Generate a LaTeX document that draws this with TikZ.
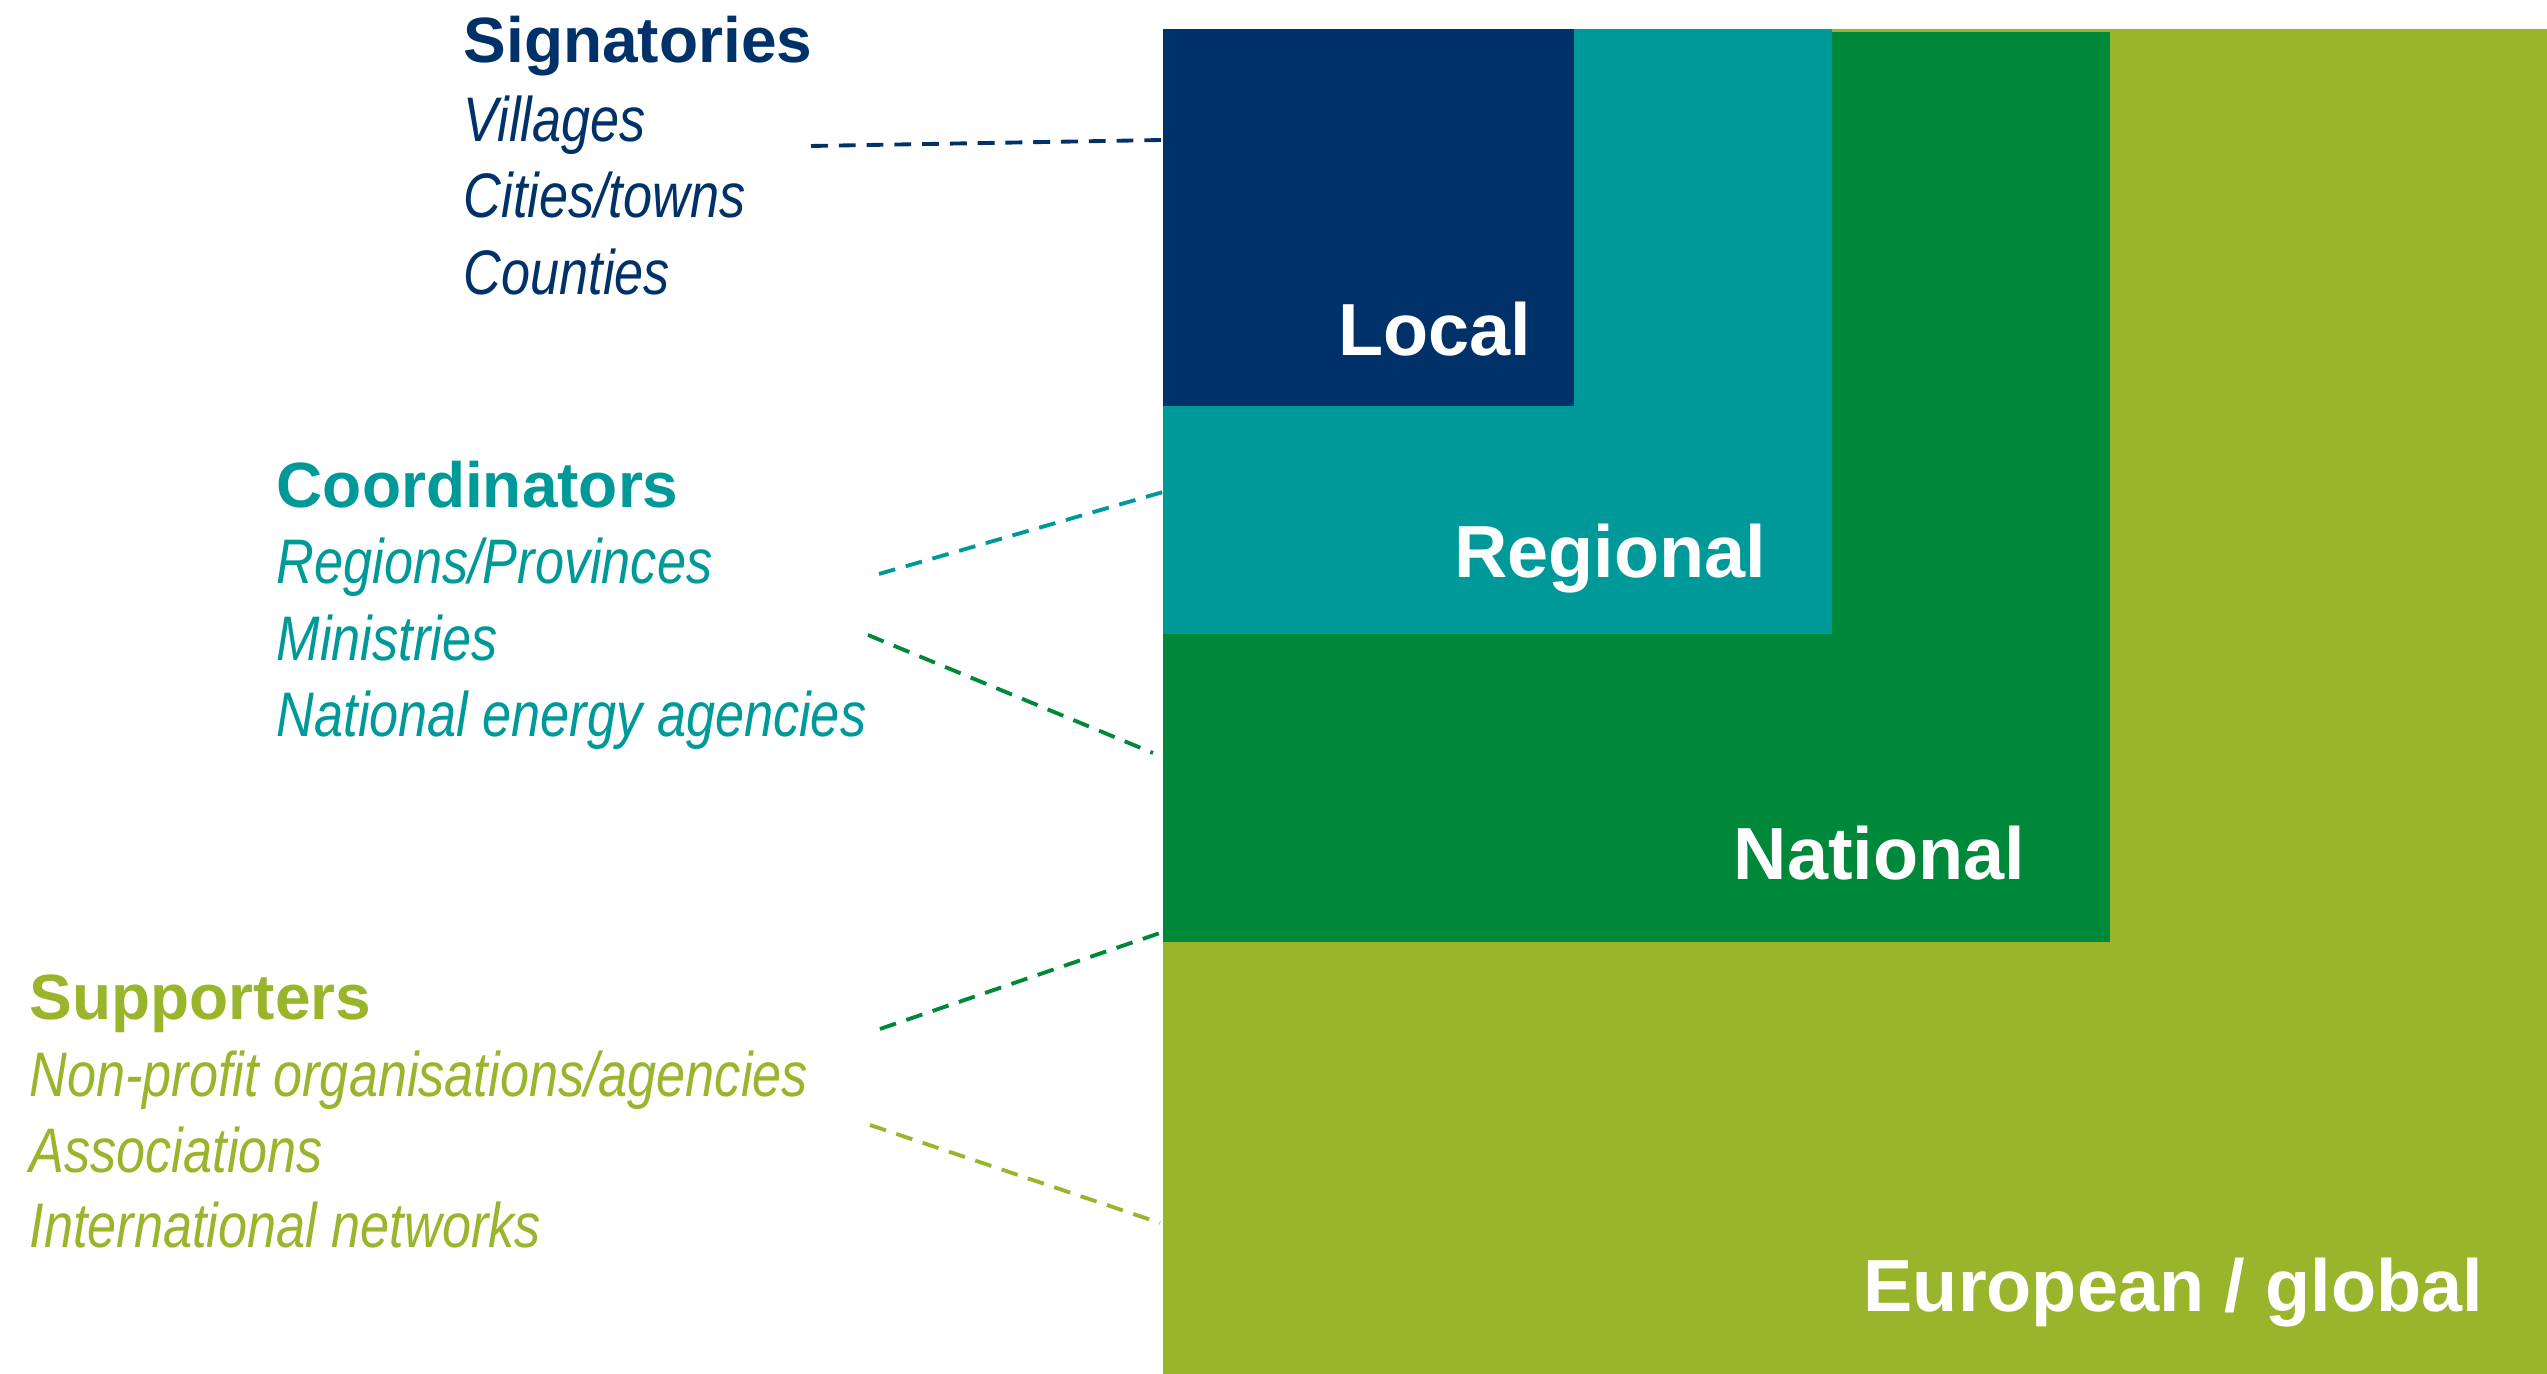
\documentclass[tikz,border=0pt]{standalone}
\usepackage{fontspec}
\setmainfont{Liberation Sans}
\newfontfamily\narrowfont{Liberation Sans}[FakeStretch=0.83]

\definecolor{covnavy}{RGB}{0,50,105}
\definecolor{covteal}{RGB}{0,153,153}
\definecolor{covgreen}{RGB}{0,136,58}
\definecolor{covolive}{RGB}{153,181,43}

\begin{document}
\begin{tikzpicture}
[x=0.01cm, y=-0.01cm,
 head/.style={anchor=base west, inner sep=0, font=\fontsize{18.2}{20}\selectfont\bfseries},
 item/.style={anchor=base west, inner sep=0, font=\narrowfont\fontsize{17.9}{20}\selectfont\itshape},
 tier/.style={anchor=base east, inner sep=0, text=white, font=\fontsize{21}{24}\selectfont\bfseries},
 link/.style={line width=1.1pt, dash pattern=on 4.8pt off 3.1pt}]
\useasboundingbox (0,0) rectangle (2547,1374);
% nested levels
\fill[covolive] (1163,29) rectangle (2547,1374);
\fill[covgreen] (1163,32) rectangle (2110,942);
\fill[covteal] (1163,29) rectangle (1832,634);
\fill[covnavy] (1163,29) rectangle (1574,406);
\node[tier] (local) at (1532,356) {Local};
\node[tier] (regional) at (1767,578) {Regional};
\node[tier] (national) at (2026,880) {National};
\node[tier] (global) at (2484,1312) {European / global};
% signatories
\node[head, text=covnavy] (sig) at (463,63) {Signatories};
\node[item, text=covnavy] (sig1) at (463,142) {Villages};
\node[item, text=covnavy] (sig2) at (463,218) {Cities/towns};
\node[item, text=covnavy] (sig3) at (463,295) {Counties};
% coordinators
\node[head, text=covteal] (coo) at (276,508) {Coordinators};
\node[item, text=covteal] (coo1) at (276,584) {Regions/Provinces};
\node[item, text=covteal] (coo2) at (276,661) {Ministries};
\node[item, text=covteal] (coo3) at (276,737) {National energy agencies};
% supporters
\node[head, text=covolive] (sup) at (29,1020) {Supporters};
\node[item, text=covolive] (sup1) at (29,1097) {Non-profit organisations/agencies};
\node[item, text=covolive] (sup2) at (29,1173) {Associations};
\node[item, text=covolive] (sup3) at (29,1248) {International networks};
% dashed links
\coordinate (sig-a) at (811,146);
\coordinate (sig-b) at (1163,140);
\coordinate (coo-a) at (879,574);
\coordinate (coo-b) at (1163,492);
\coordinate (coo-c) at (868,635);
\coordinate (coo-d) at (1153,753);
\coordinate (sup-a) at (880,1029);
\coordinate (sup-b) at (1160,933);
\coordinate (sup-c) at (870,1125);
\coordinate (sup-d) at (1160,1223);
\draw[link, covnavy] (sig-a) -- (sig-b);
\draw[link, covteal] (coo-a) -- (coo-b);
\draw[link, covgreen] (coo-c) -- (coo-d);
\draw[link, covgreen] (sup-a) -- (sup-b);
\draw[link, covolive] (sup-c) -- (sup-d);
\end{tikzpicture}
\end{document}
